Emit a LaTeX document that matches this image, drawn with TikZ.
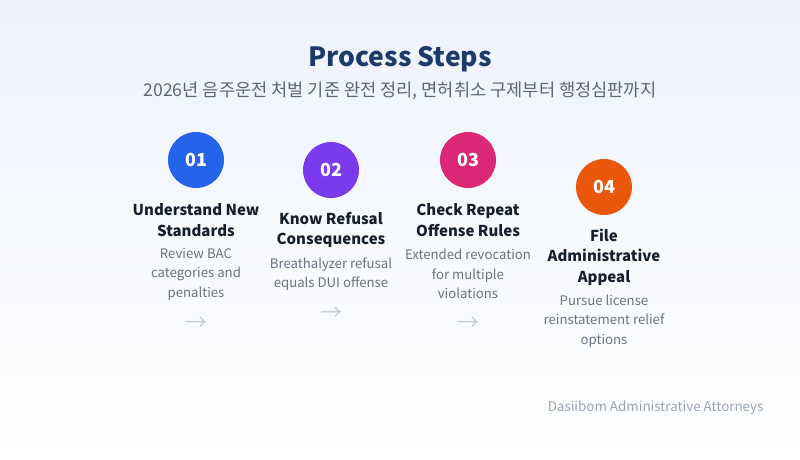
\documentclass[tikz,border=0pt]{standalone}
\usepackage{fontspec}
\setmainfont{Noto Sans CJK KR}
\definecolor{bgtop}{HTML}{EDF2FC}
\definecolor{navy}{HTML}{1E3A6B}
\definecolor{subgray}{HTML}{5B6778}
\definecolor{ttl}{HTML}{161E2E}
\definecolor{desc}{HTML}{6B7280}
\definecolor{arr}{HTML}{C5CDD8}
\definecolor{foot}{HTML}{9AA3B5}
\definecolor{cA}{HTML}{2563EB}
\definecolor{cB}{HTML}{7C3AED}
\definecolor{cC}{HTML}{DB2777}
\definecolor{cD}{HTML}{EA580C}
\begin{document}
\begin{tikzpicture}[x=1pt,y=-1pt,
  stepcircle/.style={circle,minimum size=56pt,inner sep=0pt,text=white,font=\fontsize{18}{18}\selectfont\bfseries},
  steptitle/.style={align=center,text=ttl,font=\fontsize{15}{20.5}\selectfont\bfseries},
  stepdesc/.style={align=center,text=desc,font=\fontsize{13.2}{19.5}\selectfont},
  steparrow/.style={text=arr,font=\fontsize{22}{22}\selectfont}]
\useasboundingbox (0,0) rectangle (800,460);
\shade[top color=bgtop,bottom color=white] (0,0) rectangle (800,460);
\node[text=navy,font=\fontsize{26.5}{27}\selectfont\bfseries] (title) at (400,59) {Process Steps};
\node[text=subgray,font=\fontsize{17.6}{18}\selectfont] (sub) at (400,91) {2026년 음주운전 처벌 기준 완전 정리, 면허취소 구제부터 행정심판까지};
% step 1
\node[stepcircle,fill=cA] (c1) at (196,160) {01};
\node[steptitle] (t1) at (196,220) {Understand New\\Standards};
\node[stepdesc] (d1) at (196,274) {Review BAC\\categories and\\penalties};
\node[steparrow] (a1) at (196,324) {→};
% step 2
\node[stepcircle,fill=cB] (c2) at (331,170) {02};
\node[steptitle] (t2) at (331,230) {Know Refusal\\Consequences};
\node[stepdesc] (d2) at (331,274) {Breathalyzer refusal\\equals DUI offense};
\node[steparrow] (a2) at (331,314) {→};
% step 3
\node[stepcircle,fill=cC] (c3) at (468,160) {03};
\node[steptitle] (t3) at (468,220) {Check Repeat\\Offense Rules};
\node[stepdesc] (d3) at (468,274) {Extended revocation\\for multiple\\violations};
\node[steparrow] (a3) at (468,324) {→};
% step 4
\node[stepcircle,fill=cD] (c4) at (604,187) {04};
\node[steptitle] (t4) at (604,257) {File\\Administrative\\Appeal};
\node[stepdesc] (d4) at (604,321) {Pursue license\\reinstatement relief\\options};
% footer
\node[anchor=east,text=foot,font=\fontsize{13.4}{14}\selectfont] (ft) at (767,408) {Dasiibom Administrative Attorneys};
\end{tikzpicture}
\end{document}
